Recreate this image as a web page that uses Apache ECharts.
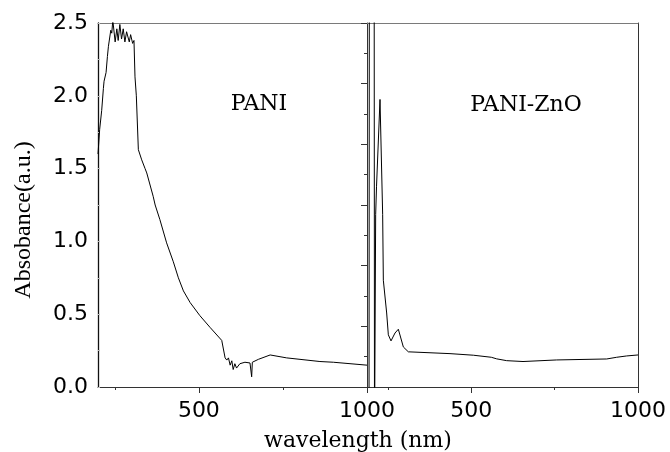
<!DOCTYPE html>
<html>
<head>
<meta charset="utf-8">
<script src="https://cdn.jsdelivr.net/npm/echarts@6.0.0/dist/echarts.min.js"></script>
<style>
  html, body { margin: 0; padding: 0; background: #fff; }
  #chart { width: 670px; height: 452px; }
</style>
</head>
<body>
<div id="chart"></div>
<script>
// PANI spectrum (left panel)
const paniWavelength = [200, 205, 211, 216, 218, 224, 228, 231, 238, 241, 244, 251, 256, 260, 265, 270, 275, 280, 285, 293, 297, 303, 307, 310, 314, 320, 330, 340, 345, 364, 370, 384, 404, 424, 439, 454, 474, 503, 533, 568, 578, 583, 588, 593, 598, 602, 607, 612, 622, 637, 652, 657, 659, 677, 712, 761, 860, 900, 1000];
const paniAbs = [1.60, 1.77, 1.90, 2.05, 2.10, 2.16, 2.27, 2.34, 2.45, 2.43, 2.52, 2.37, 2.46, 2.38, 2.49, 2.39, 2.46, 2.37, 2.44, 2.37, 2.42, 2.36, 2.38, 2.13, 2.00, 1.63, 1.56, 1.50, 1.47, 1.31, 1.25, 1.15, 0.99, 0.86, 0.75, 0.66, 0.58, 0.49, 0.41, 0.32, 0.20, 0.185, 0.20, 0.15, 0.18, 0.12, 0.16, 0.13, 0.16, 0.17, 0.165, 0.07, 0.17, 0.19, 0.22, 0.20, 0.175, 0.17, 0.15];

// PANI-ZnO spectrum (right panel)
const znoWavelength = [193, 194, 208.5, 209.5, 213, 215.5, 226, 234, 236, 246, 251, 259, 271, 281, 296, 311, 436, 506, 560, 576, 606, 655, 756, 906, 936, 966, 1000];
const znoAbs = [-0.5, 3.5, 3.5, -0.5, 1.42, 1.65, 2.37, 1.42, 0.88, 0.61, 0.43, 0.38, 0.445, 0.476, 0.33, 0.29, 0.275, 0.262, 0.245, 0.232, 0.217, 0.21, 0.223, 0.231, 0.245, 0.256, 0.264];

const xLabelValues = [500, 1000];
const xMinorValues = [250, 750];

const numFont = 'DejaVu Sans';
const serifFont = 'DejaVu Serif';
const axisDark = '#333';
const borderGray = '#7a7a7a';

const chart = echarts.init(document.getElementById('chart'));

function bottomAxis(gridIndex, min) {
  return {
    type: 'value', gridIndex, position: 'bottom', min, max: 1000,
    axisLine: { lineStyle: { color: axisDark, width: 1 } },
    axisTick: { show: true, inside: false, length: 6, customValues: xLabelValues, lineStyle: { color: axisDark } },
    axisLabel: { customValues: xLabelValues, color: '#000', fontFamily: numFont, fontSize: 22, margin: 13, formatter: v => String(v) },
    splitLine: { show: false }
  };
}
function minorAxis(gridIndex, min) {
  return {
    type: 'value', gridIndex, position: 'bottom', min, max: 1000,
    axisLine: { show: false },
    axisTick: { show: true, length: 3, customValues: xMinorValues, lineStyle: { color: axisDark } },
    axisLabel: { show: false },
    splitLine: { show: false }
  };
}
function topAxis(gridIndex, min) {
  return {
    type: 'value', gridIndex, position: 'top', min, max: 1000,
    axisLine: { lineStyle: { color: borderGray, width: 1 } },
    axisTick: { show: false }, axisLabel: { show: false }, splitLine: { show: false }
  };
}

const option = {
  backgroundColor: '#fff',
  animation: false,
  title: [
    { text: 'PANI', left: 259, top: 93, textAlign: 'center', padding: 0,
      textStyle: { fontFamily: serifFont, fontSize: 22, fontWeight: 'normal', color: '#000' } },
    { text: 'PANI-ZnO', left: 526, top: 94, textAlign: 'center', padding: 0,
      textStyle: { fontFamily: serifFont, fontSize: 22, fontWeight: 'normal', color: '#000' } },
    { text: 'wavelength (nm)', left: 358, top: 430, textAlign: 'center', padding: 0,
      textStyle: { fontFamily: serifFont, fontSize: 22, fontWeight: 'normal', color: '#000' } }
  ],
  grid: [
    { left: 98, top: 23, width: 269, height: 364 },
    { left: 367, top: 23, width: 271, height: 364 }
  ],
  xAxis: [
    bottomAxis(0, 200), minorAxis(0, 200), topAxis(0, 200),
    bottomAxis(1, 187), minorAxis(1, 187), topAxis(1, 187)
  ],
  yAxis: [
    {
      type: 'value', gridIndex: 0, position: 'left', min: 0, max: 2.5, interval: 0.5,
      name: 'Absobance(a.u.)', nameLocation: 'middle', nameRotate: 90, nameGap: 62,
      nameTextStyle: { fontFamily: 'Liberation Serif', fontSize: 24, color: '#000', padding: [0, 30, 0, 0] },
      axisLine: { lineStyle: { color: '#111', width: 1.3 } },
      axisTick: { inside: true, length: 2, lineStyle: { color: '#bbb' } },
      minorTick: { show: true, splitNumber: 2, length: 2, lineStyle: { color: '#bbb' } },
      axisLabel: { color: '#000', fontFamily: numFont, fontSize: 22, margin: 10, formatter: v => v.toFixed(1) },
      splitLine: { show: false }
    },
    {
      type: 'value', gridIndex: 1, position: 'left', min: 0, max: 3, interval: 0.5,
      axisLine: { lineStyle: { color: axisDark, width: 1 } },
      axisTick: { inside: false, length: 6, lineStyle: { color: axisDark } },
      minorTick: { show: true, splitNumber: 2, length: 3, lineStyle: { color: axisDark } },
      axisLabel: { show: false },
      splitLine: { show: false }
    },
    {
      type: 'value', gridIndex: 1, position: 'right', min: 0, max: 3,
      axisLine: { show: true, lineStyle: { color: axisDark, width: 1 } },
      axisTick: { show: false }, axisLabel: { show: false }, splitLine: { show: false }
    }
  ],
  series: [
    {
      type: 'line', xAxisIndex: 0, yAxisIndex: 0, showSymbol: false, clip: true,
      lineStyle: { color: '#000', width: 1 },
      data: paniWavelength.map((w, i) => [w, paniAbs[i]])
    },
    {
      type: 'line', xAxisIndex: 3, yAxisIndex: 1, showSymbol: false, clip: true,
      lineStyle: { color: '#000', width: 1 },
      data: znoWavelength.map((w, i) => [w, znoAbs[i]])
    }
  ]
};

chart.setOption(option);
</script>
</body>
</html>
